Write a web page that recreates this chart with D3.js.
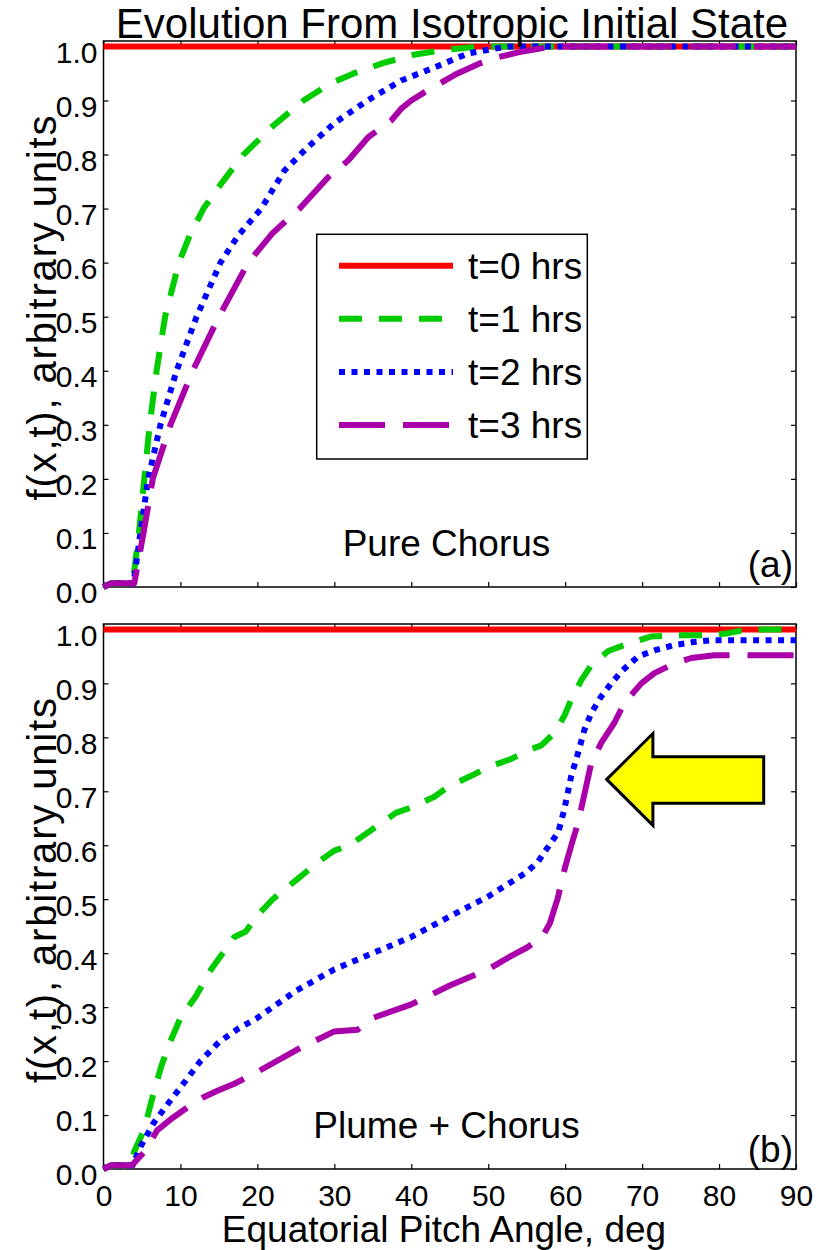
<!DOCTYPE html>
<html>
<head>
<meta charset="utf-8">
<script src="https://cdn.jsdelivr.net/npm/d3@7"></script>
<style>
  body { margin: 0; background: #fff; }
  svg text { font-family: "Liberation Sans", Arial, Helvetica, sans-serif; fill: #000; }
</style>
</head>
<body>
<svg id="chart" width="825" height="1250"></svg>
<script>
// ---- data (pitch angle in deg, f value) ----
const xTicks = [0, 10, 20, 30, 40, 50, 60, 70, 80, 90];
const yTicks = [0, 0.1, 0.2, 0.3, 0.4, 0.5, 0.6, 0.7, 0.8, 0.9, 1.0];
const seriesNames = ['t=0 hrs', 't=1 hrs', 't=2 hrs', 't=3 hrs'];

// panel (a): pure chorus
const pureT0 = [[0, 1], [90, 1]];
const pureT1 = [[0, 0], [1, 0.007], [3.8, 0.007], [4.6, 0.1], [5.3, 0.2], [6.0, 0.3], [6.9, 0.4], [8.0, 0.5],
  [9.8, 0.6], [11.2, 0.65], [13.0, 0.7], [15.5, 0.75], [18.2, 0.8], [21.8, 0.85], [26, 0.9], [29.3, 0.93],
  [32.5, 0.95], [36.5, 0.97], [40.5, 0.985], [44, 0.993], [48.8, 1.0], [90, 1.0]];
const pureT2 = [[0, 0], [1, 0.007], [3.9, 0.007], [4.8, 0.1], [5.8, 0.2], [7.4, 0.3], [9.5, 0.4], [12.1, 0.5],
  [15.2, 0.6], [17.5, 0.65], [20.5, 0.7], [23.5, 0.77], [26.5, 0.813], [30, 0.858], [34.3, 0.9], [38.7, 0.937],
  [43, 0.961], [47.4, 0.987], [51.7, 0.998], [53, 1.0], [90, 1.0]];
const pureT3 = [[0, 0], [1, 0.007], [4.0, 0.007], [4.3, 0.03], [5.2, 0.1], [6.4, 0.2], [8.7, 0.3], [11.6, 0.4],
  [15, 0.5], [18.8, 0.6], [22, 0.655], [25.5, 0.7], [29.2, 0.758], [31.8, 0.789], [34.4, 0.832], [37.4, 0.863],
  [38.7, 0.885], [40, 0.9], [41.7, 0.915], [43.9, 0.933], [46, 0.95], [48.8, 0.968], [51.3, 0.98], [53.9, 0.989],
  [56.7, 0.996], [58, 1.0], [90, 1.0]];

// panel (b): plume + chorus
const plumeT0 = [[0, 1], [90, 1]];
const plumeT1 = [[0, 0], [1, 0.007], [3.7, 0.007], [3.95, 0.031], [5.25, 0.072], [6.5, 0.14], [7.5, 0.19],
  [8.5, 0.23], [10, 0.28], [12, 0.32], [14, 0.37], [16, 0.41], [17, 0.43], [18.5, 0.44], [20, 0.47], [22, 0.5],
  [25, 0.535], [28, 0.57], [30, 0.59], [32, 0.6], [35, 0.63], [38, 0.66], [40, 0.67], [43, 0.69], [45, 0.71],
  [48, 0.73], [50, 0.745], [53, 0.76], [55, 0.775], [56.9, 0.785], [58.6, 0.808], [59.9, 0.84], [60.8, 0.87],
  [62.1, 0.906], [63.4, 0.934], [65.6, 0.96], [67.7, 0.971], [71.2, 0.987], [75.1, 0.989], [78.6, 0.989],
  [81.2, 0.993], [82.9, 0.998], [84, 1.0], [90, 1.0]];
const plumeT2 = [[0, 0], [1, 0.007], [3.8, 0.007], [4.8, 0.041], [6.5, 0.085], [8.7, 0.127], [10.7, 0.164],
  [12.6, 0.2], [15, 0.235], [17.5, 0.26], [20, 0.28], [25, 0.33], [30, 0.37], [35, 0.4], [40, 0.43], [45, 0.468],
  [50, 0.505], [55, 0.55], [56.5, 0.57], [57.3, 0.587], [59.1, 0.624], [59.9, 0.667], [60.8, 0.729], [61.7, 0.772],
  [62.5, 0.814], [63.4, 0.845], [64.7, 0.876], [66, 0.9], [67.3, 0.922], [69.5, 0.95], [71.6, 0.961],
  [74.2, 0.971], [76.4, 0.976], [79, 0.98], [90, 0.98]];
const plumeT3 = [[0, 0], [1, 0.007], [3.7, 0.007], [5.2, 0.03], [7, 0.072], [9.1, 0.096], [10.9, 0.114],
  [13, 0.133], [14.8, 0.145], [17, 0.158], [20, 0.18], [25, 0.22], [30, 0.255], [33, 0.258], [35, 0.28],
  [40, 0.305], [45, 0.34], [50, 0.37], [53, 0.395], [55, 0.41], [57, 0.43], [58, 0.455], [59, 0.5], [60, 0.56],
  [60.8, 0.6], [61.7, 0.643], [63.4, 0.753], [64.7, 0.79], [66.4, 0.827], [67.7, 0.864], [69.9, 0.9],
  [71.6, 0.919], [74.2, 0.937], [76.4, 0.947], [79.4, 0.952], [90, 0.952]];

// yellow arrow in panel (b), data coords
const arrowPts = [[65.4, 0.722], [71.4, 0.807], [71.4, 0.764], [85.8, 0.764], [85.8, 0.678], [71.4, 0.678], [71.4, 0.637]];

// ---- styles ----
const styles = [
  { color: '#ff0000', dash: null },
  { color: '#00cc00', dash: '23,17' },
  { color: '#0000ff', dash: '6,6.5' },
  { color: '#aa00aa', dash: '46,18' }
];

const svg = d3.select('#chart');
const x = d3.scaleLinear().domain([0, 90]).range([103.5, 796]);
const fmt = d3.format('.1f');

function drawPanel(cfg) {
  const y = d3.scaleLinear().domain([0, 1.01]).range([cfg.bottom, cfg.top]);
  const g = svg.append('g');

  // ticks pointing inward on all four sides
  const left = g.append('g').attr('transform', `translate(${x.range()[0]},0)`)
    .call(d3.axisLeft(y).tickValues(yTicks).tickFormat(fmt).tickSize(-5).tickSizeOuter(0).tickPadding(6));
  left.selectAll('text').attr('dy', '0.53em').style('font-size', '30px');
  g.append('g').attr('transform', `translate(${x.range()[1]},0)`)
    .call(d3.axisRight(y).tickValues(yTicks).tickFormat('').tickSize(-5).tickSizeOuter(0));
  g.append('g').attr('transform', `translate(0,${cfg.top})`)
    .call(d3.axisTop(x).tickValues(xTicks).tickFormat('').tickSize(-5).tickSizeOuter(0));
  const bottom = g.append('g').attr('transform', `translate(0,${cfg.bottom})`)
    .call(d3.axisBottom(x).tickValues(xTicks).tickFormat(cfg.xLabels ? d3.format('d') : '')
      .tickSize(-5).tickSizeOuter(0).tickPadding(16));
  bottom.selectAll('text').style('font-size', '30px');
  g.selectAll('.domain').remove();
  g.selectAll('.tick line').attr('stroke', '#000').attr('stroke-width', 1.2);

  // frame
  g.append('rect')
    .attr('x', x.range()[0]).attr('y', cfg.top)
    .attr('width', x.range()[1] - x.range()[0]).attr('height', cfg.bottom - cfg.top)
    .attr('fill', 'none').attr('stroke', '#000').attr('stroke-width', 1.5);

  const line = d3.line().x(d => x(d[0])).y(d => y(d[1]));
  cfg.series.forEach((s, i) => {
    g.append('path').datum(s)
      .attr('d', line)
      .attr('fill', 'none')
      .attr('stroke', styles[i].color)
      .attr('stroke-width', 6)
      .attr('stroke-dasharray', styles[i].dash)
      .attr('stroke-linejoin', 'round');
  });

  // y label
  const cy = (cfg.top + cfg.bottom) / 2 - 6;
  g.append('text')
    .attr('transform', `translate(56,${cy}) rotate(-90)`)
    .attr('text-anchor', 'middle')
    .attr('textLength', 385)
    .attr('lengthAdjust', 'spacing')
    .style('font-size', '40px')
    .text('f(x,t), arbitrary units');

  g.append('text').attr('x', 446.5).attr('y', cfg.noteY)
    .attr('text-anchor', 'middle').style('font-size', '37px').text(cfg.note);
  g.append('text').attr('x', 793).attr('y', cfg.tagY)
    .attr('text-anchor', 'end').style('font-size', '37px').text(cfg.tag);

  return { g, y };
}

drawPanel({ top: 41, bottom: 587, series: [pureT0, pureT1, pureT2, pureT3], xLabels: false,
  note: 'Pure Chorus', noteY: 556, tag: '(a)', tagY: 577 });

const pb = drawPanel({ top: 624, bottom: 1169, series: [plumeT0, plumeT1, plumeT2, plumeT3], xLabels: true,
  note: 'Plume + Chorus', noteY: 1138, tag: '(b)', tagY: 1162 });

// arrow
pb.g.append('polygon')
  .attr('points', arrowPts.map(p => [x(p[0]), pb.y(p[1])].join(',')).join(' '))
  .attr('fill', '#ffff00').attr('stroke', '#000').attr('stroke-width', 3);

// legend (panel a)
const leg = svg.append('g');
leg.append('rect').attr('x', 316.7).attr('y', 234.3).attr('width', 270.6).attr('height', 224.7)
  .attr('fill', '#fff').attr('stroke', '#000').attr('stroke-width', 1.5);
seriesNames.forEach((name, i) => {
  const ry = 265.7 + i * 53.1;
  leg.append('line').attr('x1', 339).attr('x2', 453).attr('y1', ry).attr('y2', ry)
    .attr('stroke', styles[i].color).attr('stroke-width', 6).attr('stroke-dasharray', styles[i].dash);
  leg.append('text').attr('x', 468).attr('y', ry + 13).style('font-size', '37px').text(name);
});

// title and x label
svg.append('text').attr('x', 452).attr('y', 38).attr('text-anchor', 'middle')
  .style('font-size', '42px').text('Evolution From Isotropic Initial State');
svg.append('text').attr('x', 444).attr('y', 1242).attr('text-anchor', 'middle')
  .style('font-size', '37px').text('Equatorial Pitch Angle, deg');
</script>
</body>
</html>
